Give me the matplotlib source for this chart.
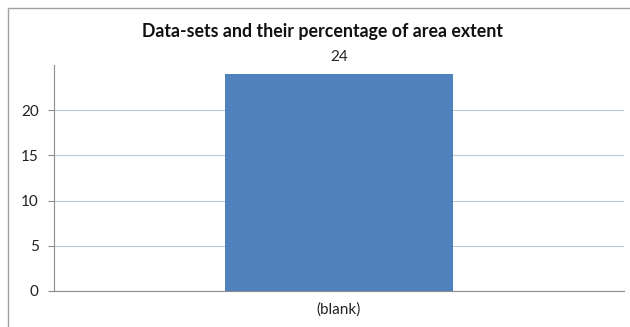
import matplotlib
matplotlib.use("Agg")
import matplotlib.pyplot as plt
from matplotlib.patches import Rectangle

categories = ["(blank)"]
values = [24]
yticks = [0, 5, 10, 15, 20]
title = "Data-sets and their percentage of area extent"

plt.rcParams['font.family'] = ['Lato', 'DejaVu Sans']

W, H = 630, 327
fig = plt.figure(figsize=(W/100, H/100), dpi=100)
fig.patch.set_facecolor('white')

# outer chart border
fig.patches.append(Rectangle((8/W, -0.1), 1.2, (H-8)/H + 0.1, transform=fig.transFigure,
                             fill=False, edgecolor='#a0a0a0', linewidth=1.0))

ax = fig.add_axes([54/W, 1-291/H, (624-54)/W, (291-65)/H])
x = list(range(len(categories)))
bars = ax.bar(x, values, width=0.4, color='#4F81BD', zorder=3)
ax.set_xlim(-0.5, 0.5)
ax.set_ylim(0, 25)
ax.set_yticks(yticks)
ax.set_xticks(x)
ax.set_xticklabels(categories)
ax.grid(axis='y', color='#b9c9dc', linewidth=0.8, zorder=0)
for s in ['top', 'right']:
    ax.spines[s].set_visible(False)
ax.spines['left'].set_color('#8c8c8c')
ax.spines['bottom'].set_color('#8c8c8c')
ax.tick_params(axis='y', length=4, color='#8c8c8c', labelsize=11, pad=7, labelcolor='#222222')
ax.tick_params(axis='x', length=0, labelsize=11, pad=8, labelcolor='#222222')
for b, v in zip(bars, values):
    ax.annotate(str(v), (b.get_x() + b.get_width()/2, v), xytext=(0, 7),
                textcoords='offset points', ha='center', va='bottom', fontsize=11, color='#222222')

fig.text(323/W, 1-32/H, title, ha='center', va='center', fontsize=12.8, fontweight='bold', color='#111111')

fig.savefig('out.png', dpi=100)
